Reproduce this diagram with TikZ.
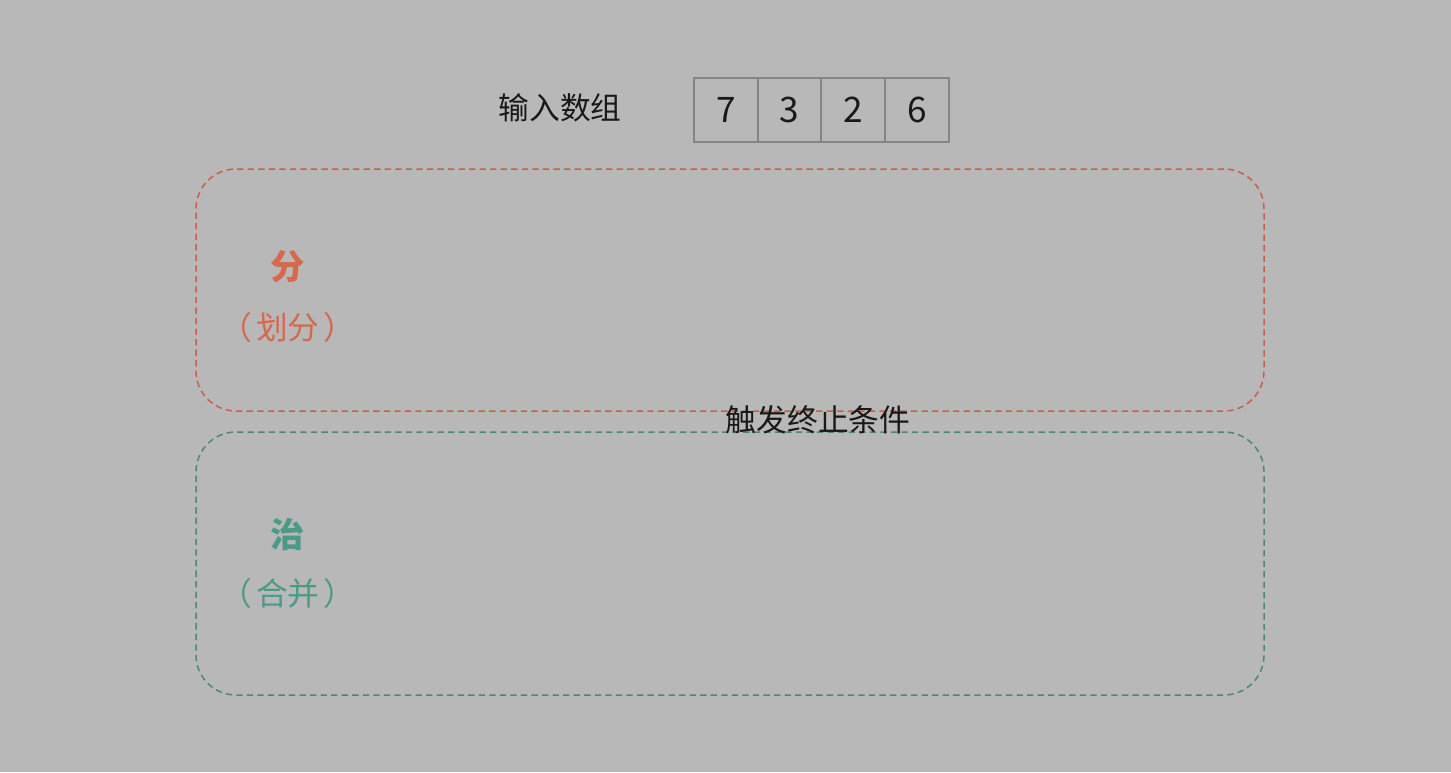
\documentclass[tikz,border=0pt]{standalone}
\usepackage{fontspec}
\setmainfont{Noto Sans CJK SC}
\usepackage{xcolor}
\usetikzlibrary{positioning}
\definecolor{bggray}{HTML}{B8B8B8}
\definecolor{cellgray}{HTML}{858585}
\definecolor{splitred}{HTML}{C5614A}
\definecolor{splittext}{HTML}{D4694B}
\definecolor{mergegreen}{HTML}{4B887A}
\definecolor{mergetext}{HTML}{4C9A86}

\begin{document}
\begin{tikzpicture}[
      every node/.style={font=\fontsize{17.5}{20}\selectfont, text=black!90},
      cell/.style={draw=cellgray, line width=1.1pt, minimum width=1.275cm, minimum height=1.28cm, inner sep=0pt, outer sep=0pt, font=\fontsize{20}{24}\selectfont},
      stage/.style={dashed, dash pattern=on 3.6pt off 2.4pt, line width=0.85pt, rounded corners=0.8cm, minimum width=21.36cm, inner sep=0pt},
      title/.style={font=\bfseries\fontsize{19.5}{22}\selectfont},
      sub/.style={font=\fontsize{18}{20}\selectfont}
    ]
        \fill[bggray] (0,0) rectangle (29.02,-15.44);
        \useasboundingbox (0,0) rectangle (29.02,-15.44);

        % input array
        \node (c1) [cell] at (14.515,-2.2) {7};
        \node (c2) [cell, right=0pt of c1] {3};
        \node (c3) [cell, right=0pt of c2] {2};
        \node (c4) [cell, right=0pt of c3] {6};
        \node (inlabel) at (11.2,-2.16) {输入数组};

        % divide / conquer areas
        \node (divide) [stage, draw=splitred, minimum height=4.84cm] at (14.6,-5.8) {};
        \node (conquer) [stage, draw=mergegreen, minimum height=5.26cm] at (14.6,-11.27) {};
        \node (stop) at (16.36,-8.4) {触发终止条件};

        \node (fen) [title, text=splittext] at (5.76,-5.34) {分};
        \node (fensub) [sub, text=splittext] at (5.76,-6.54) {（\hspace{0.12em}划分\hspace{0.12em}）};
        \node (zhi) [title, text=mergetext] at (5.76,-10.68) {治};
        \node (zhisub) [sub, text=mergetext] at (5.76,-11.86) {（\hspace{0.12em}合并\hspace{0.12em}）};
    \end{tikzpicture}
\end{document}
